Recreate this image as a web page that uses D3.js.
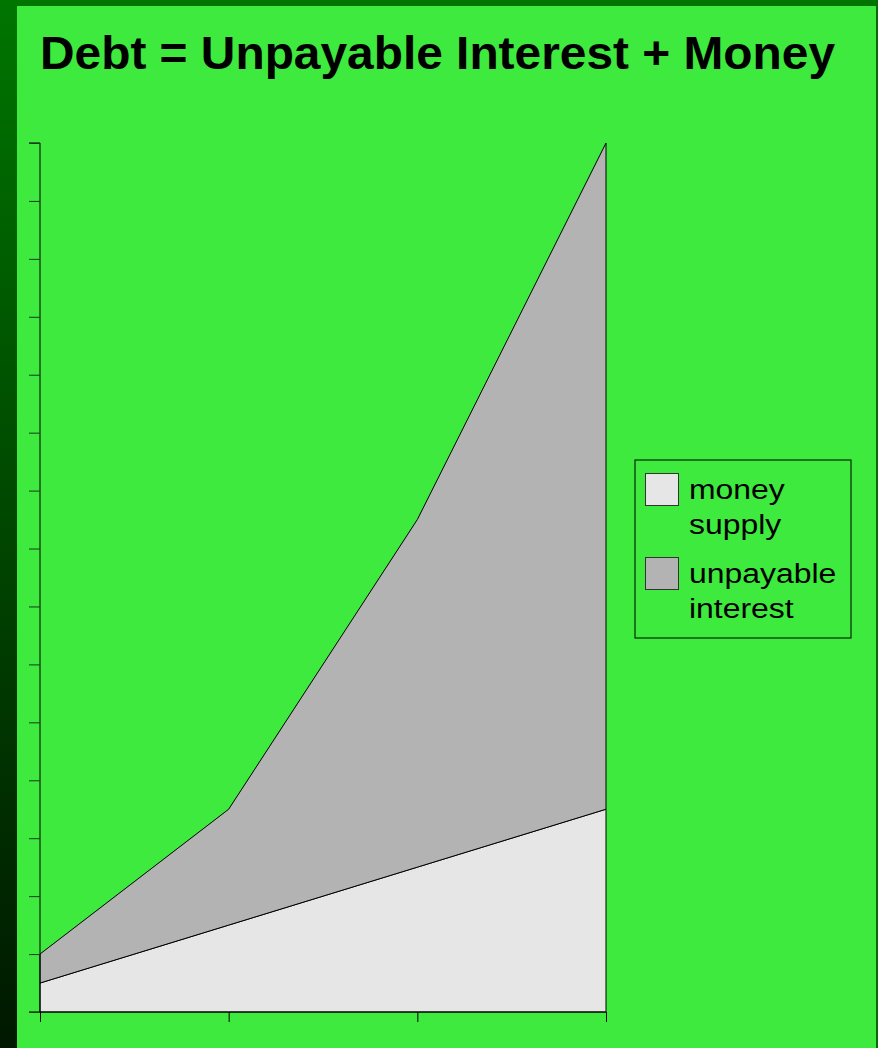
<!DOCTYPE html>
<html>
<head>
<meta charset="utf-8">
<script src="https://cdn.jsdelivr.net/npm/d3@7"></script>
<style>
  body { margin: 0; background: #3dea3d; }
  svg { display: block; font-family: "Liberation Sans", Arial, sans-serif; }
</style>
</head>
<body>
<div id="chart"></div>
<script>
  /**
   * DATA
   * */
  const periods = [0, 1, 2, 3];
  const moneySupply = [0.5, 1.5, 2.5, 3.5];
  const unpayableInterest = [0.5, 2, 6, 11.5];
  const yTicks = d3.range(0, 16);
  const legendLabels = [["money", "supply"], ["unpayable", "interest"]];
  const seriesKeys = ["money", "interest"];

  const width = 878, height = 1048;
  const colors = { money: "#e6e6e6", interest: "#b3b3b3" };

  const table = periods.map((p, i) => ({ p, money: moneySupply[i], interest: unpayableInterest[i] }));

  const svg = d3.select("#chart").append("svg")
    .attr("width", width)
    .attr("height", height);

  const defs = svg.append("defs");
  const grad = defs.append("linearGradient")
    .attr("id", "sidegrad")
    .attr("x1", 0).attr("y1", 0).attr("x2", 0).attr("y2", 1);
  grad.append("stop").attr("offset", "0%").attr("stop-color", "#007500");
  grad.append("stop").attr("offset", "100%").attr("stop-color", "#001800");

  // background + frame
  svg.append("rect").attr("width", width).attr("height", height).attr("fill", "#3dea3d");
  svg.append("rect").attr("width", width).attr("height", 6).attr("fill", "#007500");
  svg.append("rect").attr("width", 17).attr("height", height).attr("fill", "url(#sidegrad)");
  svg.append("rect").attr("x", width - 2).attr("width", 2).attr("height", height).attr("fill", "#0a6a0a");

  svg.append("text")
    .attr("x", 40)
    .attr("y", 69)
    .attr("font-size", 46)
    .attr("font-weight", "bold")
    .attr("fill", "#000")
    .attr("textLength", 795)
    .attr("lengthAdjust", "spacingAndGlyphs")
    .text("Debt = Unpayable Interest + Money");

  const x = d3.scaleLinear().domain([0, 3]).range([40, 606]);
  const y = d3.scaleLinear().domain([0, 15]).range([1012, 143]);

  const stack = d3.stack().keys(seriesKeys)(table);

  const area = d3.area()
    .x(d => x(d.data.p))
    .y0(d => y(d[0]))
    .y1(d => y(d[1]));

  svg.append("g")
    .selectAll("path")
    .data(stack)
    .join("path")
    .attr("d", area)
    .attr("fill", d => colors[d.key])
    .attr("stroke", "#000")
    .attr("stroke-width", 1);

  const yAxis = d3.axisLeft(y).tickValues(yTicks).tickSize(11).tickFormat("");
  svg.append("g")
    .attr("transform", "translate(40,0)")
    .call(yAxis)
    .call(g => g.select(".domain").attr("stroke", "#000").attr("d", `M-11,${y(15)}H0V${y(0)}H-11`))
    .call(g => g.selectAll(".tick line").attr("stroke", "#1a3a1a"));

  const xAxis = d3.axisBottom(x).tickValues(periods).tickSize(10).tickFormat("");
  svg.append("g")
    .attr("transform", `translate(0,${y(0)})`)
    .call(xAxis)
    .call(g => g.select(".domain").attr("stroke", "#000").attr("d", `M${x(0)},0H${x(3)}`))
    .call(g => g.selectAll(".tick line").attr("stroke", "#000"));

  // legend
  const legend = svg.append("g").attr("transform", "translate(635,460)");
  legend.append("rect")
    .attr("width", 216).attr("height", 178)
    .attr("fill", "none").attr("stroke", "#000").attr("stroke-width", 1);

  const items = legend.selectAll("g.item")
    .data(seriesKeys)
    .join("g")
    .attr("class", "item")
    .attr("transform", (d, i) => `translate(0,${i * 84})`);

  items.append("rect")
    .attr("x", 10.5).attr("y", 13.5)
    .attr("width", 33).attr("height", 32)
    .attr("fill", d => colors[d])
    .attr("stroke", "#333");

  items.each(function(d, i) {
    d3.select(this).append("g")
      .attr("transform", "translate(54,0) scale(1.14,1)")
      .selectAll("text")
      .data(legendLabels[i])
      .join("text")
      .attr("x", 0)
      .attr("y", (t, j) => 39 + j * 35)
      .attr("font-size", 28)
      .attr("fill", "#000")
      .text(t => t);
  });
</script>
</body>
</html>
